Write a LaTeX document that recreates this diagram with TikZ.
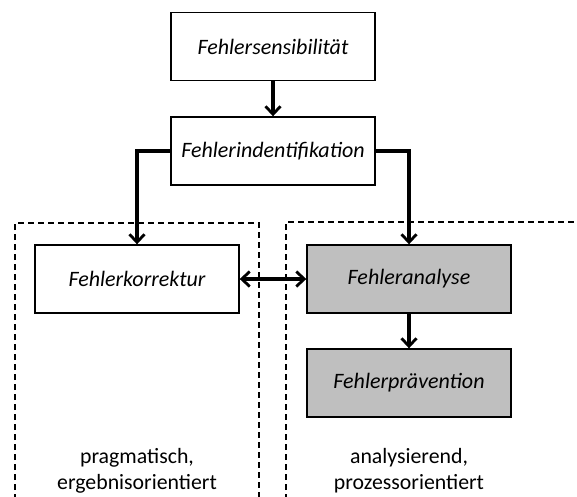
\documentclass[tikz,border=0pt]{standalone}
\usepackage{fontspec}
\setmainfont{Carlito}
\usetikzlibrary{arrows.meta}
\definecolor{boxgrey}{HTML}{BFBFBF}
\tikzset{
  box/.style={draw=black, line width=1.4pt, minimum width=204pt, minimum height=68pt,
    inner sep=0pt, font=\fontsize{22}{26}\selectfont\itshape},
  greybox/.style={box, fill=boxgrey},
  conn/.style={line width=3.2pt, -{Straight Barb[length=8pt,width=15pt,line width=2.8pt]}},
  dconn/.style={line width=3.2pt, {Straight Barb[length=8pt,width=15pt,line width=2.8pt]}-{Straight Barb[length=8pt,width=15pt,line width=2.8pt]}},
  region/.style={draw=black, line width=1.6pt, dash pattern=on 6pt off 4pt},
  lbl/.style={align=center, font=\fontsize{21.8}{26}\selectfont, inner sep=0pt}
}
\begin{document}
\begin{tikzpicture}[x=1pt,y=-1pt]
\useasboundingbox (0,0) rectangle (577,496);
\draw[region] (15,500) -- (15,223) -- (259,223) -- (259,500);
\draw[region] (286,500) -- (286,222) -- (580,222);
\node[box] (sens) at (273,46.5) {Fehlersensibilität};
\node[box] (ident) at (273,151) {Fehlerindentifikation};
\node[box] (korr) at (137,279) {Fehlerkorrektur};
\node[greybox] (ana) at (409,279) {Fehleranalyse};
\node[greybox] (prae) at (409,383) {Fehlerprävention};
\draw[conn] (sens.south) -- (ident.north);
\draw[conn] (ident.west) -| (korr.north);
\draw[conn] (ident.east) -| (ana.north);
\draw[conn] (ana.south) -- (prae.north);
\draw[dconn] (korr.east) -- (ana.west);
\node[lbl] (lt) at (137,470.5) {pragmatisch,\\ergebnisorientiert};
\node[lbl] (rt) at (409,470.5) {analysierend,\\prozessorientiert};
\end{tikzpicture}
\end{document}
